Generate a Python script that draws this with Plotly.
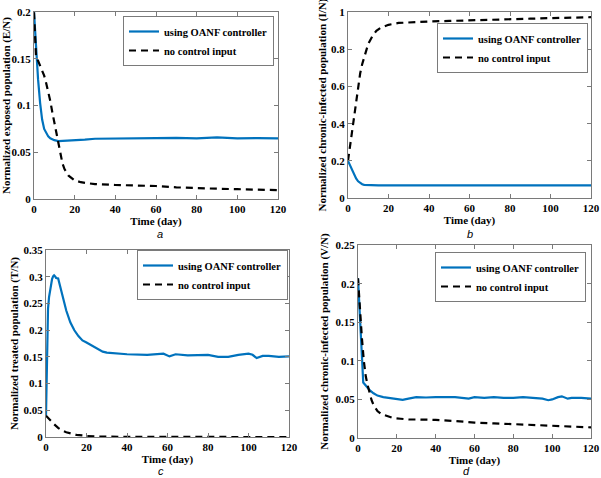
import plotly.graph_objects as go

# ---------------- data ----------------
# Panel a: normalized exposed population (E/N)
a_ctrl_t = [0, 0.5, 1, 1.5, 2, 3, 4, 5, 6, 7, 8, 10, 12, 15, 20, 25, 30, 40, 50, 60, 70, 80, 90, 100, 110, 120]
a_ctrl_y = [0.2, 0.18, 0.162, 0.145, 0.128, 0.103, 0.085, 0.075, 0.07, 0.067, 0.065, 0.063, 0.062, 0.0622,
            0.063, 0.0635, 0.0645, 0.065, 0.065, 0.0652, 0.0655, 0.0648, 0.066, 0.065, 0.0652, 0.065]
a_none_t = [0, 0.3, 0.7, 1, 2, 3, 4, 5, 6, 7, 8, 9, 10, 11, 12, 13, 14, 15, 17, 20, 23, 26, 30, 40, 50,
            60, 70, 80, 90, 100, 110, 120]
a_none_y = [0.2, 0.18, 0.16, 0.152, 0.148, 0.143, 0.138, 0.132, 0.124, 0.115, 0.105, 0.093, 0.082, 0.07,
            0.058, 0.048, 0.038, 0.032, 0.025, 0.02, 0.018, 0.017, 0.016, 0.015, 0.0145, 0.0139, 0.0125,
            0.0114, 0.011, 0.0105, 0.01, 0.0095]

# Panel b: normalized chronic-infected population (I/N)
b_ctrl_t = [0, 1, 2, 3, 4, 5, 6, 7, 8, 10, 12, 15, 20, 30, 40, 60, 80, 90, 100, 120]
b_ctrl_y = [0.2, 0.175, 0.15, 0.125, 0.105, 0.09, 0.08, 0.074, 0.071, 0.069, 0.068, 0.068, 0.068, 0.068,
            0.068, 0.069, 0.068, 0.069, 0.068, 0.068]
b_none_t = [0, 0.5, 1, 1.5, 2, 3, 4, 5, 6, 7, 8, 9, 10, 12, 14, 16, 18, 20, 25, 30, 40, 50, 60, 70, 80,
            90, 100, 110, 120]
b_none_y = [0.2, 0.24, 0.28, 0.32, 0.36, 0.44, 0.52, 0.6, 0.67, 0.72, 0.76, 0.8, 0.83, 0.87, 0.9, 0.915,
            0.925, 0.932, 0.942, 0.946, 0.95, 0.953, 0.955, 0.958, 0.962, 0.965, 0.968, 0.971, 0.973]

# Panel c: normalized treated population (T/N)
c_ctrl_t = [0, 0.3, 0.6, 1, 1.5, 2, 2.5, 3, 3.5, 4, 4.5, 5, 6, 6.5, 7, 8, 9, 10, 12, 14, 16, 18, 20, 22,
            24, 26, 28, 30, 35, 40, 50, 55, 58, 61, 64, 70, 75, 80, 85, 90, 95, 100, 102, 104, 107, 110,
            115, 120]
c_ctrl_y = [0.04, 0.12, 0.2, 0.24, 0.262, 0.275, 0.287, 0.296, 0.301, 0.303, 0.301, 0.298, 0.297, 0.29,
            0.282, 0.265, 0.25, 0.237, 0.215, 0.2, 0.189, 0.181, 0.177, 0.173, 0.169, 0.164, 0.16, 0.158,
            0.156, 0.155, 0.154, 0.155, 0.156, 0.151, 0.155, 0.153, 0.153, 0.154, 0.15, 0.15, 0.154,
            0.156, 0.154, 0.148, 0.152, 0.152, 0.15, 0.151]
c_none_t = [0, 2, 4, 6, 8, 10, 12, 15, 18, 20, 25, 30, 40, 60, 80, 100, 120]
c_none_y = [0.04, 0.031, 0.024, 0.017, 0.012, 0.009, 0.007, 0.004, 0.003, 0.002, 0.001, 0.0005, 0.0002,
            0.0001, 0, 0, 0]

# Panel d: normalized chronic-infected population (V/N)
d_ctrl_t = [0, 1, 2, 2.7, 4, 6, 8, 10, 13, 16, 20, 23, 26, 30, 35, 40, 50, 55, 57, 60, 65, 70, 75, 80,
            85, 90, 95, 98, 100, 103, 105, 108, 110, 115, 120]
d_ctrl_y = [0.207, 0.15, 0.1, 0.072, 0.068, 0.062, 0.058, 0.055, 0.053, 0.052, 0.051, 0.0495, 0.051,
            0.053, 0.0525, 0.053, 0.053, 0.052, 0.051, 0.053, 0.052, 0.053, 0.052, 0.052, 0.053, 0.052,
            0.051, 0.049, 0.05, 0.053, 0.054, 0.051, 0.052, 0.052, 0.051]
d_none_t = [0, 1, 2, 3, 4, 5, 6, 7, 8, 10, 12, 15, 18, 22, 26, 30, 40, 50, 60, 70, 80, 90, 100, 110, 120]
d_none_y = [0.207, 0.165, 0.13, 0.1, 0.08, 0.068, 0.058, 0.049, 0.043, 0.035, 0.031, 0.028, 0.026, 0.025,
            0.024, 0.024, 0.0235, 0.022, 0.02, 0.019, 0.018, 0.017, 0.016, 0.015, 0.0138]

x_ticks = [0, 20, 40, 60, 80, 100, 120]
a_yticks = [0, 0.05, 0.1, 0.15, 0.2]
b_yticks = [0, 0.2, 0.4, 0.6, 0.8, 1]
c_yticks = [0, 0.05, 0.1, 0.15, 0.2, 0.25, 0.3, 0.35]
d_yticks = [0, 0.05, 0.1, 0.15, 0.2, 0.25]
a_ylabels = ["0", "0.05", "0.1", "0.15", "0.2"]
b_ylabels = ["0", "0.2", "0.4", "0.6", "0.8", "1"]
c_ylabels = ["0", "0.05", "0.1", "0.15", "0.2", "0.25", "0.3", "0.35"]
d_ylabels = ["0", "0.05", "0.1", "0.15", "0.2", "0.25"]

name_ctrl = "using OANF controller"
name_none = "no control input"
x_title = "Time (day)"
y_titles = ["Normalized exposed population (E/N)",
            "Normalized chronic-infected population (I/N)",
            "Normalized treated population (T/N)",
            "Normalized chronic-infected population (V/N)"]
panel_letters = ["a", "b", "c", "d"]

# ---------------- figure ----------------
W, H = 601, 478
BLUE = "#0072BD"
AXC = "#7a7a7a"
SERIF = "Liberation Serif, Times New Roman, Times, serif"

def px_x(p):
    return p / W

def px_y(p):
    return 1 - p / H

# plot areas in pixels: (left, right, top, bottom)
boxes = [(34, 278, 12, 199), (348, 591, 12, 198), (46, 289, 250, 437), (358, 591, 245, 438)]
ranges = [[0, 0.2], [0, 1], [0, 0.35], [0, 0.25]]
yticks = [a_yticks, b_yticks, c_yticks, d_yticks]
ylabels = [a_ylabels, b_ylabels, c_ylabels, d_ylabels]
title_standoff = [2, 2, 2, 4]
x_standoff = [1, 1, 0, 0]
series = [(a_ctrl_t, a_ctrl_y, a_none_t, a_none_y),
          (b_ctrl_t, b_ctrl_y, b_none_t, b_none_y),
          (c_ctrl_t, c_ctrl_y, c_none_t, c_none_y),
          (d_ctrl_t, d_ctrl_y, d_none_t, d_none_y)]
# legend boxes (right, top) in pixels
legend_pos = [(274, 16), (588, 23), (288, 250), (586, 252)]
letter_pos = [(160, 234), (470, 234), (161, 471), (466, 471)]

fig = go.Figure()
layout = dict(width=W, height=H, margin=dict(l=0, r=0, t=0, b=0),
              paper_bgcolor="white", plot_bgcolor="white", showlegend=True)

tickfont = dict(family=SERIF, size=11, color="black", weight="bold")
titlefont = dict(family=SERIF, size=11, color="black", weight="bold")

for i in range(4):
    sfx = "" if i == 0 else str(i + 1)
    lg = "legend" if i == 0 else "legend" + str(i + 1)
    ct, cy, nt, ny = series[i]
    fig.add_trace(go.Scatter(x=ct, y=cy, mode="lines", name=name_ctrl,
                             line=dict(color=BLUE, width=2.2),
                             xaxis="x" + sfx, yaxis="y" + sfx, legend=lg))
    fig.add_trace(go.Scatter(x=nt, y=ny, mode="lines", name=name_none,
                             line=dict(color="black", width=2.2, dash="7px,5px"),
                             xaxis="x" + sfx, yaxis="y" + sfx, legend=lg))
    l, r, t, b = boxes[i]
    lo, hi = ranges[i]
    layout["xaxis" + sfx] = dict(
        domain=[px_x(l), px_x(r)], range=[0, 120.0001], anchor="y" + sfx,
        tickmode="array", tickvals=x_ticks, ticktext=[str(v) for v in x_ticks],
        ticks="inside", ticklen=4, tickcolor=AXC, showline=True, linecolor=AXC,
        linewidth=1, mirror="ticks", showgrid=False, zeroline=False,
        tickfont=tickfont, title=dict(text=x_title, font=titlefont, standoff=x_standoff[i]),
        automargin=False)
    layout["yaxis" + sfx] = dict(
        domain=[px_y(b), px_y(t)], range=[lo, hi * 1.001], anchor="x" + sfx,
        tickmode="array", tickvals=yticks[i], ticktext=ylabels[i],
        ticks="inside", ticklen=4, tickcolor=AXC, showline=True, linecolor=AXC,
        linewidth=1, mirror="ticks", showgrid=False, zeroline=False,
        tickfont=tickfont, title=dict(text=y_titles[i], font=titlefont, standoff=title_standoff[i]),
        ticklabeloverflow="allow", automargin=False)
    lx, ly = legend_pos[i]
    layout[lg] = dict(x=px_x(lx), y=px_y(ly), xanchor="right", yanchor="top",
                      xref="paper", yref="paper",
                      bgcolor="white", bordercolor=AXC, borderwidth=1,
                      font=dict(family=SERIF, size=10.5, color="black", weight="bold"),
                      itemwidth=30, tracegroupgap=0)

annotations = []
for i in range(4):
    x, y = letter_pos[i]
    annotations.append(dict(text=panel_letters[i], x=px_x(x), y=px_y(y), xref="paper", yref="paper",
                            showarrow=False, xanchor="center", yanchor="middle",
                            font=dict(family="Liberation Sans", size=11, color="black", style="italic")))
layout["annotations"] = annotations

fig.update_layout(**layout)
fig.write_html("out.html", config={"displayModeBar": False},
               post_script="document.body.style.margin='0';document.body.style.overflow='hidden';")
